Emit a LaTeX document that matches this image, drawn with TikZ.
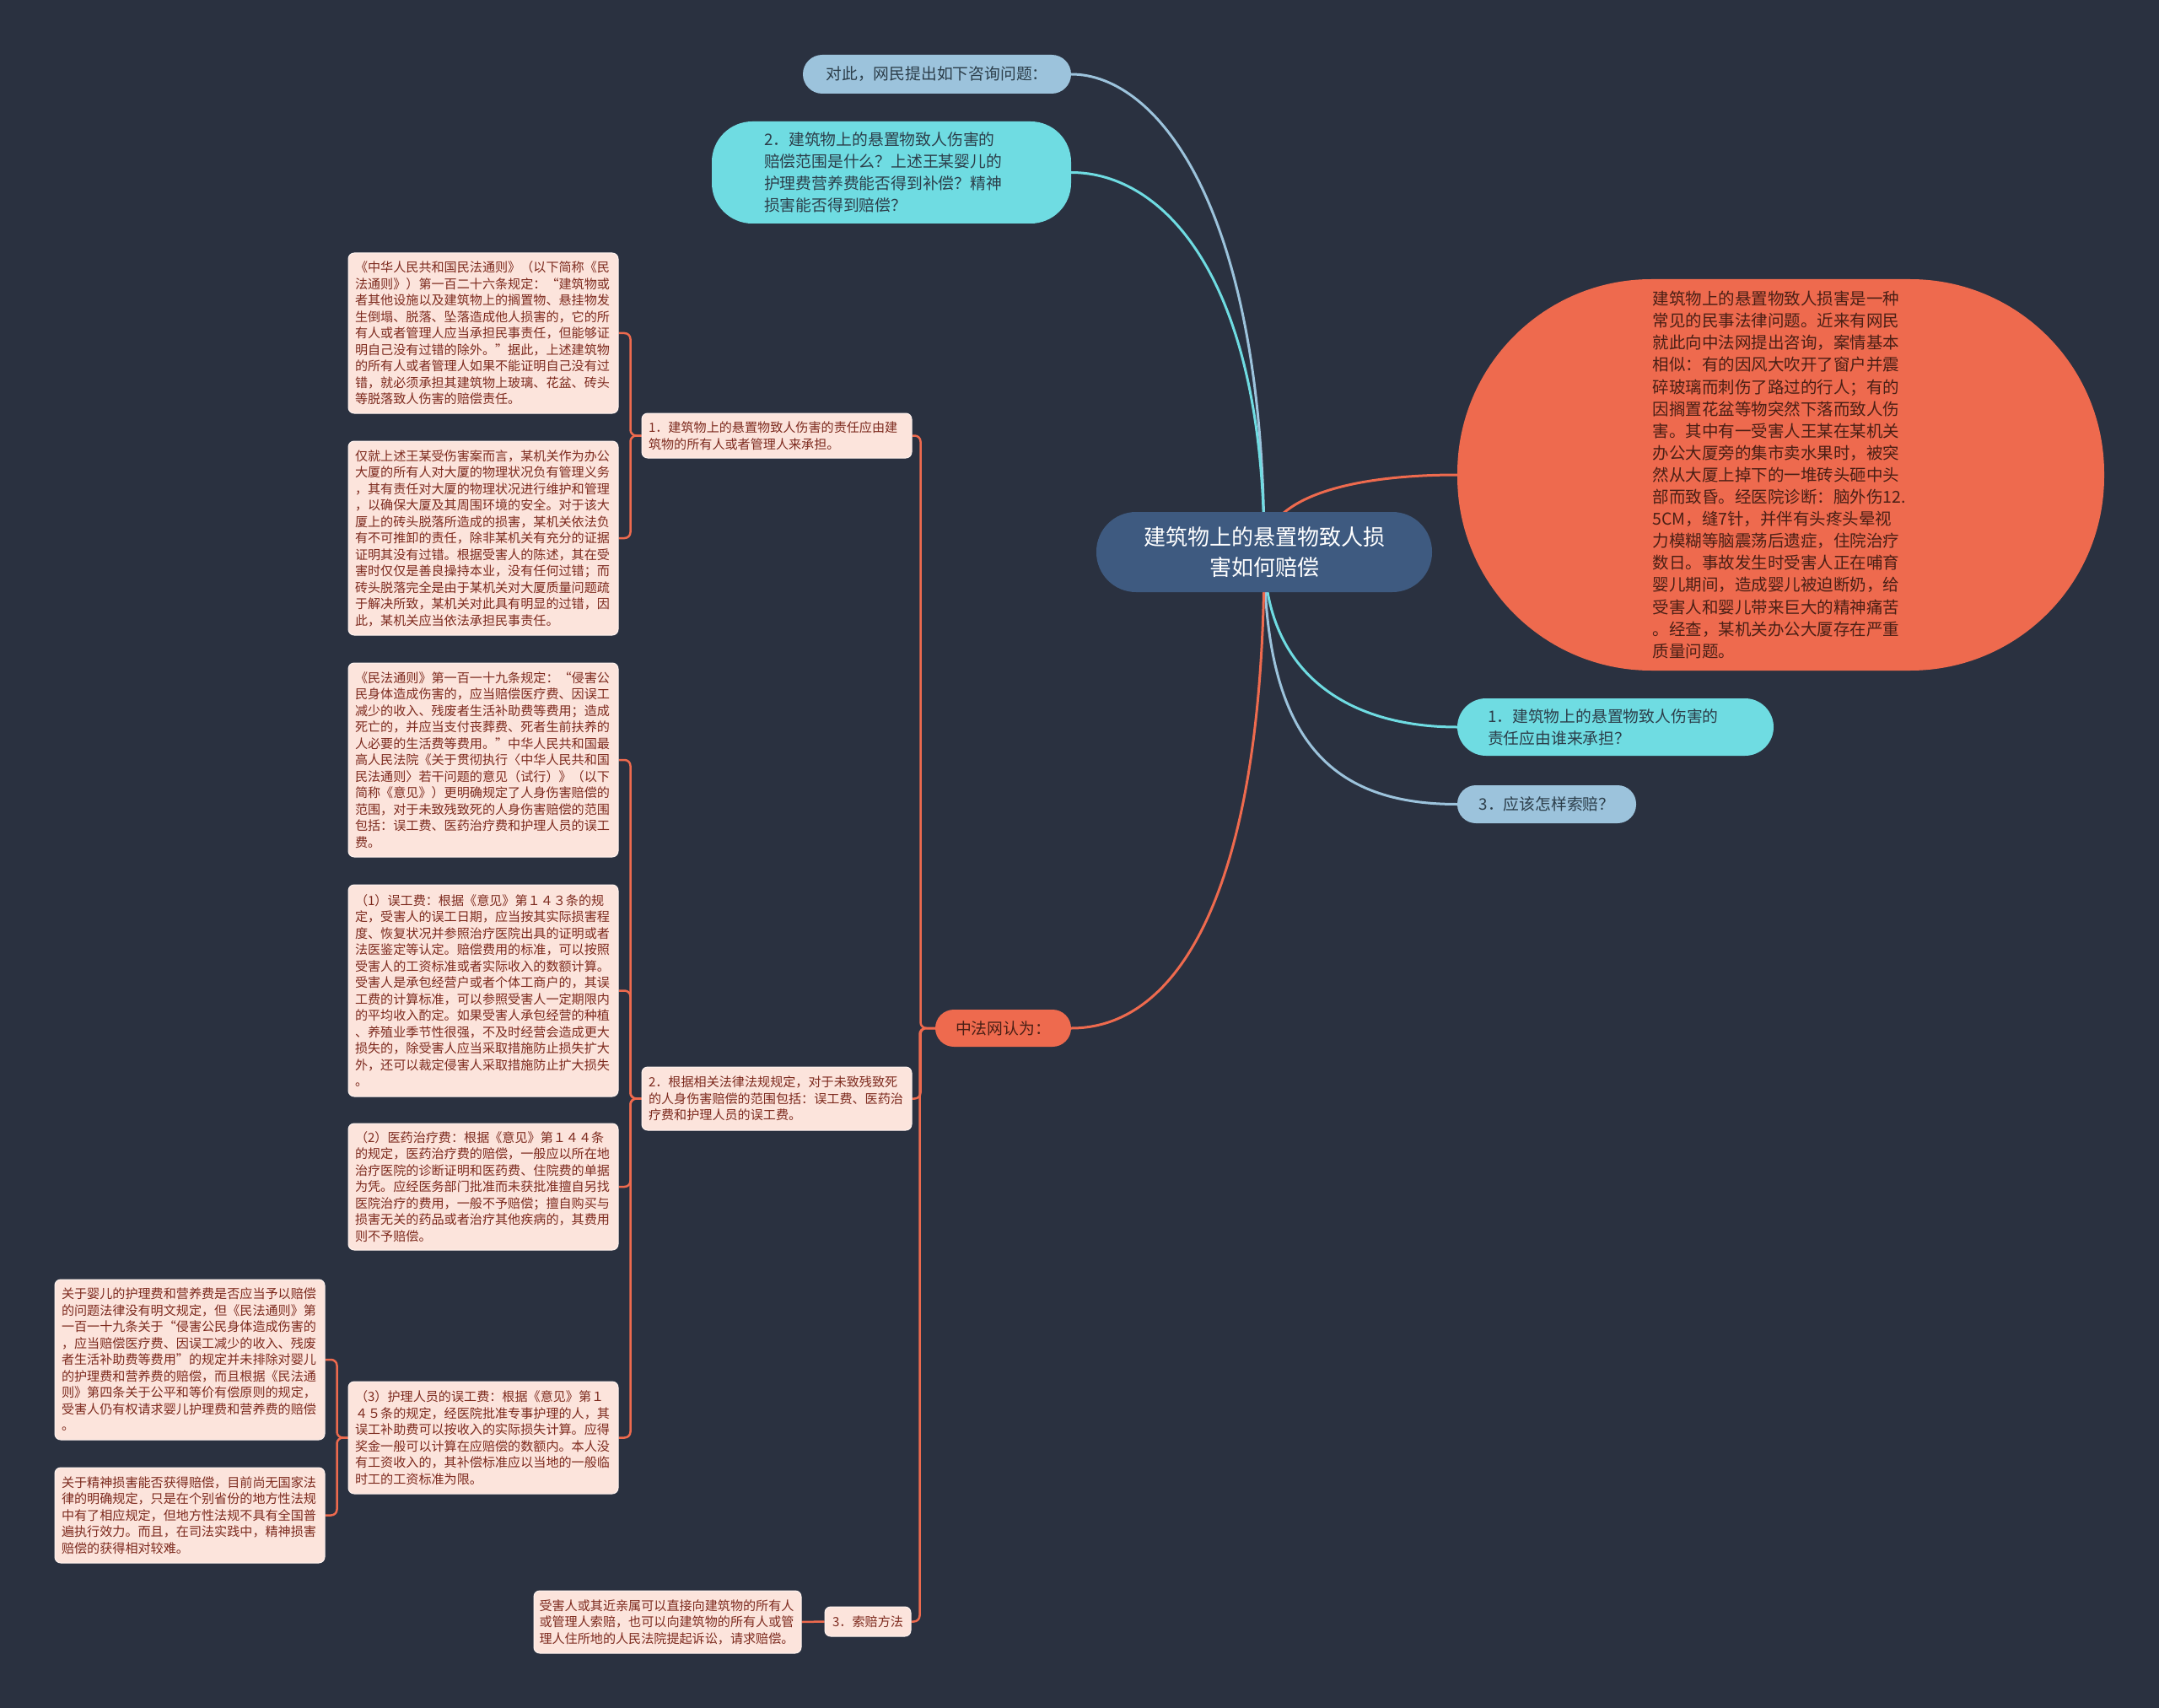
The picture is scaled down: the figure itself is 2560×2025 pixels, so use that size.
\documentclass[tikz,border=0pt]{standalone}
\usepackage{fontspec}
\setmainfont{Noto Sans CJK SC}
\usetikzlibrary{shapes.geometric,calc}
\definecolor{bgc}{HTML}{2A3140}
\definecolor{coral}{HTML}{EE6A4E}
\definecolor{leaffill}{HTML}{FCE4DC}
\definecolor{leafedge}{HTML}{FFF3EF}
\definecolor{leaftext}{HTML}{7D2A1E}
\definecolor{cyanc}{HTML}{6FDCE2}
\definecolor{bluec}{HTML}{9CC3DC}
\definecolor{rootc}{HTML}{3E5A80}
\definecolor{darktext}{HTML}{2C3E4A}
\definecolor{casetext}{HTML}{4A1F15}
\pgfdeclarelayer{bg}
\pgfsetlayers{bg,main}
\tikzset{
  leaf/.style={fill=leaffill, draw=leafedge, line width=1pt, rounded corners=7pt,
    text=leaftext, font=\fontsize{15.1}{19.5}\selectfont, align=left,
    inner sep=0pt, text width=304pt, minimum width=320pt},
  midbox/.style={leaf},
  topnode/.style={text=darktext, font=\fontsize{18.8}{26}\selectfont, inner sep=0pt},
  rootnode/.style={fill=rootc, text=white, font=\fontsize{26}{36}\selectfont, align=center,
    inner sep=0pt, rounded corners=47pt, minimum width=398pt, minimum height=95pt},
  mainline/.style={line width=3pt},
  subline/.style={line width=2.5pt, draw=coral, rounded corners=7pt},
}
\begin{document}
\begin{tikzpicture}[x=1pt,y=-1pt]
\begin{pgfonlayer}{bg}
\fill[bgc] (0,0) rectangle (2560,2025);
\end{pgfonlayer}
\useasboundingbox (0,0) rectangle (2560,2025);

% root
\node[rootnode] (c) at (1499,654.5) {建筑物上的悬置物致人损\\害如何赔偿};

% top nodes
\node[topnode, fill=bluec, rounded corners=23pt, minimum width=318pt, minimum height=46pt] (q0) at (1111,88) {对此，网民提出如下咨询问题：};
\node[topnode, fill=cyanc, rounded corners=48pt, minimum width=426pt, minimum height=121pt, align=left, text width=302pt] (q2) at (1057,204.5) {2．建筑物上的悬置物致人伤害的\\赔偿范围是什么？上述王某婴儿的\\护理费营养费能否得到补偿？精神\\损害能否得到赔偿？};

% case description
\node[fill=coral, rounded corners=230pt, minimum width=767pt, minimum height=464pt, inner sep=0pt] (case) at (2111.5,563) {};
\node[text=casetext, font=\fontsize{19.5}{26.1}\selectfont, align=left, text width=320pt, inner sep=0pt] (casetxt) at ($(case.center)+(8,0)$) {建筑物上的悬置物致人损害是一种\\常见的民事法律问题。近来有网民\\就此向中法网提出咨询，案情基本\\相似：有的因风大吹开了窗户并震\\碎玻璃而刺伤了路过的行人；有的\\因搁置花盆等物突然下落而致人伤\\害。其中有一受害人王某在某机关\\办公大厦旁的集市卖水果时，被突\\然从大厦上掉下的一堆砖头砸中头\\部而致昏。经医院诊断：脑外伤12.\\5CM，缝7针，并伴有头疼头晕视\\力模糊等脑震荡后遗症，住院治疗\\数日。事故发生时受害人正在哺育\\婴儿期间，造成婴儿被迫断奶，给\\受害人和婴儿带来巨大的精神痛苦\\。经查，某机关办公大厦存在严重\\质量问题。};

% right questions
\node[topnode, fill=cyanc, rounded corners=34pt, minimum width=375pt, minimum height=68pt, align=left, text width=303pt] (q1) at (1915.5,862) {1．建筑物上的悬置物致人伤害的\\责任应由谁来承担？};
\node[topnode, fill=bluec, rounded corners=22pt, minimum width=212pt, minimum height=45pt] (q3) at (1834,953.5) {3．应该怎样索赔？};

% answer
\node[topnode, fill=coral, text=casetext, rounded corners=22pt, minimum width=161pt, minimum height=44pt] (zf) at (1189.5,1219) {中法网认为：};

% middle level
\node[midbox, minimum height=53pt] (m1) at (921,516.5) {1．建筑物上的悬置物致人伤害的责任应由建\\筑物的所有人或者管理人来承担。};
\node[midbox, minimum height=75pt] (m2) at (921,1302.5) {2．根据相关法律法规规定，对于未致残致死\\的人身伤害赔偿的范围包括：误工费、医药治\\疗费和护理人员的误工费。};
\node[leaf, text width=, align=center, minimum width=102pt, minimum height=35pt] (m3) at (1029,1922.5) {3．索赔方法};

% leaves
\node[leaf, minimum height=190pt] (l1) at (573,395) {《中华人民共和国民法通则》（以下简称《民\\法通则》）第一百二十六条规定：“建筑物或\\者其他设施以及建筑物上的搁置物、悬挂物发\\生倒塌、脱落、坠落造成他人损害的，它的所\\有人或者管理人应当承担民事责任，但能够证\\明自己没有过错的除外。”据此，上述建筑物\\的所有人或者管理人如果不能证明自己没有过\\错，就必须承担其建筑物上玻璃、花盆、砖头\\等脱落致人伤害的赔偿责任。};
\node[leaf, minimum height=230pt] (l2) at (573,638) {仅就上述王某受伤害案而言，某机关作为办公\\大厦的所有人对大厦的物理状况负有管理义务\\，其有责任对大厦的物理状况进行维护和管理\\，以确保大厦及其周围环境的安全。对于该大\\厦上的砖头脱落所造成的损害，某机关依法负\\有不可推卸的责任，除非某机关有充分的证据\\证明其没有过错。根据受害人的陈述，其在受\\害时仅仅是善良操持本业，没有任何过错；而\\砖头脱落完全是由于某机关对大厦质量问题疏\\于解决所致，某机关对此具有明显的过错，因\\此，某机关应当依法承担民事责任。};
\node[leaf, minimum height=230pt] (l3) at (573,901) {《民法通则》第一百一十九条规定：“侵害公\\民身体造成伤害的，应当赔偿医疗费、因误工\\减少的收入、残废者生活补助费等费用；造成\\死亡的，并应当支付丧葬费、死者生前扶养的\\人必要的生活费等费用。”中华人民共和国最\\高人民法院《关于贯彻执行〈中华人民共和国\\民法通则〉若干问题的意见（试行）》（以下\\简称《意见》）更明确规定了人身伤害赔偿的\\范围，对于未致残致死的人身伤害赔偿的范围\\包括：误工费、医药治疗费和护理人员的误工\\费。};
\node[leaf, minimum height=251pt] (l4) at (573,1174.5) {（1）误工费：根据《意见》第１４３条的规\\定，受害人的误工日期，应当按其实际损害程\\度、恢复状况并参照治疗医院出具的证明或者\\法医鉴定等认定。赔偿费用的标准，可以按照\\受害人的工资标准或者实际收入的数额计算。\\受害人是承包经营户或者个体工商户的，其误\\工费的计算标准，可以参照受害人一定期限内\\的平均收入酌定。如果受害人承包经营的种植\\、养殖业季节性很强，不及时经营会造成更大\\损失的，除受害人应当采取措施防止损失扩大\\外，还可以裁定侵害人采取措施防止扩大损失\\。};
\node[leaf, minimum height=150pt] (l5) at (573,1407) {（2）医药治疗费：根据《意见》第１４４条\\的规定，医药治疗费的赔偿，一般应以所在地\\治疗医院的诊断证明和医药费、住院费的单据\\为凭。应经医务部门批准而未获批准擅自另找\\医院治疗的费用，一般不予赔偿；擅自购买与\\损害无关的药品或者治疗其他疾病的，其费用\\则不予赔偿。};
\node[leaf, minimum height=133pt] (l8) at (573,1704.5) {（3）护理人员的误工费：根据《意见》第１\\４５条的规定，经医院批准专事护理的人，其\\误工补助费可以按收入的实际损失计算。应得\\奖金一般可以计算在应赔偿的数额内。本人没\\有工资收入的，其补偿标准应以当地的一般临\\时工的工资标准为限。};
\node[leaf, minimum height=190pt] (l6) at (225,1612) {关于婴儿的护理费和营养费是否应当予以赔偿\\的问题法律没有明文规定，但《民法通则》第\\一百一十九条关于“侵害公民身体造成伤害的\\，应当赔偿医疗费、因误工减少的收入、残废\\者生活补助费等费用”的规定并未排除对婴儿\\的护理费和营养费的赔偿，而且根据《民法通\\则》第四条关于公平和等价有偿原则的规定，\\受害人仍有权请求婴儿护理费和营养费的赔偿\\。};
\node[leaf, minimum height=113pt] (l7) at (225,1796.5) {关于精神损害能否获得赔偿，目前尚无国家法\\律的明确规定，只是在个别省份的地方性法规\\中有了相应规定，但地方性法规不具有全国普\\遍执行效力。而且，在司法实践中，精神损害\\赔偿的获得相对较难。};
\node[leaf, minimum width=317pt, minimum height=74pt] (l9) at (791.5,1923) {受害人或其近亲属可以直接向建筑物的所有人\\或管理人索赔，也可以向建筑物的所有人或管\\理人住所地的人民法院提起诉讼，请求赔偿。};

% connectors
\begin{pgfonlayer}{bg}
\draw[mainline, bluec] (c.center) .. controls (1499,245) and (1372,88) .. (q0.east);
\draw[mainline, cyanc] (c.center) .. controls (1499,330) and (1380,204.5) .. (q2.east);
\draw[mainline, coral] (c.center) .. controls (1499,590) and (1600,563) .. (case.west);
\draw[mainline, cyanc] (c.center) .. controls (1499,800) and (1600,862) .. (q1.west);
\draw[mainline, bluec] (c.center) .. controls (1499,880) and (1580,953.5) .. (q3.west);
\draw[mainline, coral] (c.center) .. controls (1499,1050) and (1400,1219) .. (zf.east);

\draw[subline] (zf.west) -| ($(m1.east)+(10,0)$) -- (m1.east);
\draw[subline] (zf.west) -| ($(m2.east)+(10,0)$) -- (m2.east);
\draw[subline] (zf.west) -| ($(m3.east)+(10,0)$) -- (m3.east);

\draw[subline] (m1.west) -| ($(l1.east)+(14,0)$) -- (l1.east);
\draw[subline] (m1.west) -| ($(l2.east)+(14,0)$) -- (l2.east);

\draw[subline] (m2.west) -| ($(l3.east)+(14,0)$) -- (l3.east);
\draw[subline] (m2.west) -| ($(l4.east)+(14,0)$) -- (l4.east);
\draw[subline] (m2.west) -| ($(l5.east)+(14,0)$) -- (l5.east);
\draw[subline] (m2.west) -| ($(l8.east)+(14,0)$) -- (l8.east);

\draw[subline] (l8.west) -| ($(l6.east)+(14,0)$) -- (l6.east);
\draw[subline] (l8.west) -| ($(l7.east)+(14,0)$) -- (l7.east);

\draw[subline] (m3.west) -- (l9.east);
\end{pgfonlayer}
\end{tikzpicture}
\end{document}
